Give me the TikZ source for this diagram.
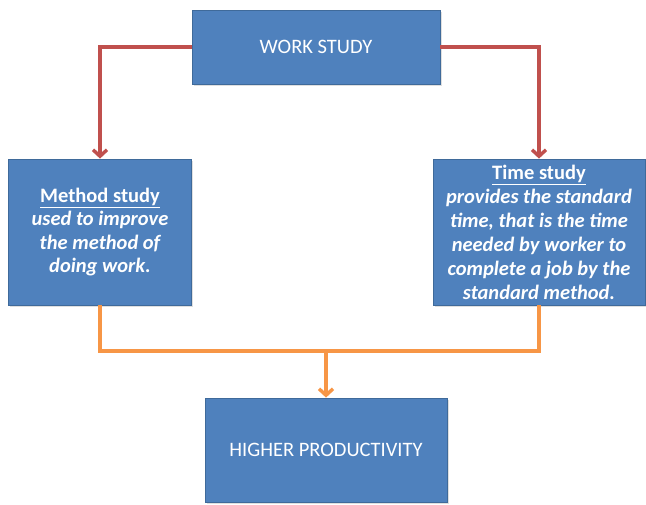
\documentclass[tikz,border=0pt]{standalone}
\usepackage{fontspec}
\setmainfont{Carlito}
\usetikzlibrary{arrows.meta,shadows}
\definecolor{boxblue}{HTML}{4F81BD}
\definecolor{boxedge}{HTML}{3F6A9A}
\definecolor{redline}{HTML}{C0504D}
\definecolor{orangeline}{HTML}{F79646}
\tikzset{
  block/.style={draw=boxedge, line width=0.8pt, fill=boxblue, text=white,
    inner sep=0pt, align=center,
    drop shadow={opacity=0.25, shadow xshift=1.5pt, shadow yshift=-1.5pt}},
  redarrow/.style={draw=redline, line width=3.4pt, -{Straight Barb[length=6.5pt,width=14pt]}},
  orangearrow/.style={draw=orangeline, line width=3.4pt, -{Straight Barb[length=6.5pt,width=14pt]}},
}
\begin{document}
\begin{tikzpicture}[x=1pt, y=-1pt]
                \useasboundingbox (0,0) rectangle (646,504);
                % the four boxes
                \node [block, minimum width=248, minimum height=74,
                  font=\fontsize{20.5}{23}\selectfont] (ws) at (316,47) {WORK STUDY};
                \node [block, minimum width=183, minimum height=146,
                  font=\fontsize{20.5}{23.5}\selectfont\bfseries] (method) at (100,232)
                  {\underline{Method study}\\ \itshape used to improve\\ \itshape the method of\\ \itshape doing work.};
                \node [block, minimum width=212, minimum height=146,
                  font=\fontsize{20.5}{24}\selectfont\bfseries] (time) at (539,232)
                  {\underline{Time study}\\ \itshape provides the standard\\ \itshape time, that is the time\\
                   \itshape needed by worker to\\ \itshape complete a job by the\\ \itshape standard method.};
                \node [block, minimum width=242, minimum height=104,
                  font=\fontsize{20.5}{23}\selectfont] (prod) at (326,450) {HIGHER PRODUCTIVITY};
                % work study splits in two
                \draw [redarrow] (ws.west) -| (method.north);
                \draw [redarrow] (ws.east) -| (time.north);
                % both feed productivity
                \coordinate (bus) at (326,351);
                \draw [draw=orangeline, line width=3.4pt] (method.south) |- (bus) -| (time.south);
                \draw [orangearrow] (bus) -- (prod.north);
            \end{tikzpicture}
\end{document}
